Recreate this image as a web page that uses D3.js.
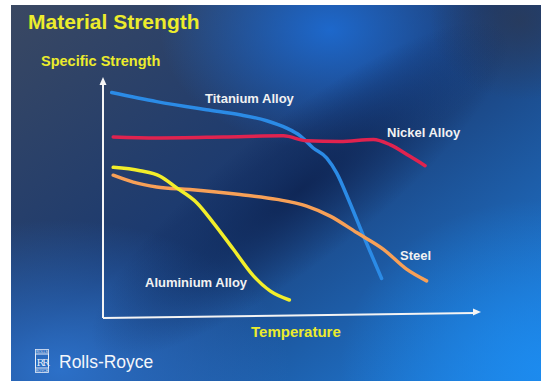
<!DOCTYPE html>
<html>
<head>
<meta charset="utf-8">
<script src="https://cdn.jsdelivr.net/npm/d3@7"></script>
<style>
  html, body { margin: 0; padding: 0; background: #fff; }
  svg { display: block; }
</style>
</head>
<body>
<div id="chart"></div>
<script>
// Values, temperature and strength on a 0-100 scale
const titaniumT = [2.3, 14.2, 27.4, 36.2, 43.3, 48.6, 52.1, 55.6, 59.2, 61.8, 65.3, 68.9, 73.7];
const titaniumS = [93.5, 89.7, 86.3, 84.2, 81.7, 78.6, 75.5, 70.3, 66.1, 59.9, 47.4, 33.5, 15.7];

const nickelT = [2.7, 14.2, 31.8, 47.7, 53.9, 62.7, 71.5, 75.9, 81.2, 85.2];
const nickelS = [74.9, 74.5, 74.9, 75.4, 73.3, 73.0, 73.8, 71.7, 66.8, 62.9];

const aluminiumT = [2.7, 9.8, 15.1, 19.5, 24.8, 29.2, 34.5, 39.8, 44.2, 49.3];
const aluminiumS = [62.2, 60.8, 58.5, 53.6, 47.4, 39.0, 27.9, 16.8, 10.5, 6.7];

const steelT = [2.7, 8.0, 14.2, 23.0, 36.2, 46.0, 53.9, 60.1, 67.1, 74.2, 80.3, 85.6];
const steelS = [58.9, 56.0, 54.0, 52.9, 50.8, 48.8, 46.0, 41.8, 34.9, 27.9, 19.6, 14.7];

const seriesNames = ["Titanium Alloy", "Nickel Alloy", "Aluminium Alloy", "Steel"];

const W = 541, H = 381;

const svg = d3.select("#chart").append("svg")
    .attr("width", W)
    .attr("height", H);

const defs = svg.append("defs");

// base gradient: slate navy top-left to bright blue bottom-right
const base = defs.append("linearGradient")
    .attr("id", "base")
    .attr("x1", 0).attr("y1", 0).attr("x2", 1).attr("y2", 1);
base.append("stop").attr("offset", "0%").attr("stop-color", "#3a4862");
base.append("stop").attr("offset", "45%").attr("stop-color", "#1b3a70");
base.append("stop").attr("offset", "100%").attr("stop-color", "#1f80e0");

function glow(id, color, op) {
    const g = defs.append("radialGradient").attr("id", id);
    g.append("stop").attr("offset", "0%").attr("stop-color", color).attr("stop-opacity", op);
    g.append("stop").attr("offset", "100%").attr("stop-color", color).attr("stop-opacity", 0);
}
glow("glowTop", "#1d6ad0", 0.95);
glow("glowLeft", "#2c70c8", 1);
glow("glowRight", "#1c8cf0", 0.9);
glow("dark", "#0d2250", 0.85);
glow("darkCorner", "#2a3a58", 0.8);

const bg = svg.append("g");
bg.append("rect").attr("x", 11).attr("y", 5).attr("width", W - 11).attr("height", H - 5)
    .attr("fill", "url(#base)");

const clip = defs.append("clipPath").attr("id", "slide");
clip.append("rect").attr("x", 11).attr("y", 5).attr("width", W - 11).attr("height", H - 5);

const glows = bg.append("g").attr("clip-path", "url(#slide)");
glows.append("ellipse").attr("cx", 330).attr("cy", 30).attr("rx", 170).attr("ry", 120)
    .attr("fill", "url(#glowTop)");
glows.append("ellipse").attr("cx", 60).attr("cy", 370).attr("rx", 230).attr("ry", 150)
    .attr("fill", "url(#glowLeft)");
glows.append("ellipse").attr("cx", 540).attr("cy", 370).attr("rx", 200).attr("ry", 170)
    .attr("fill", "url(#glowRight)");
glows.append("ellipse").attr("cx", 520).attr("cy", 20).attr("rx", 90).attr("ry", 80)
    .attr("fill", "url(#darkCorner)");
glows.append("ellipse")
    .attr("cx", 300).attr("cy", 190).attr("rx", 260).attr("ry", 70)
    .attr("transform", "rotate(-38 300 190)")
    .attr("fill", "url(#dark)");

// scales
const x = d3.scaleLinear().domain([0, 100]).range([103, 481]);
const y = d3.scaleLinear().domain([0, 100]).range([316, 77]);

// axes (the photo is slightly tilted)
svg.append("path")
    .attr("d", `M${x(0)},${y(0) + 2} L${x(0)},${y(100) + 2}`)
    .attr("stroke", "#f4f4f4").attr("stroke-width", 2).attr("fill", "none");
svg.append("path")
    .attr("d", `M${x(0)},${y(0) + 2} L${x(100) - 6},${y(0) - 3}`)
    .attr("stroke", "#f4f4f4").attr("stroke-width", 2).attr("fill", "none");
svg.append("path")
    .attr("d", `M${x(0) - 3.5},${y(100) + 8} L${x(0)},${y(100)} L${x(0) + 3.5},${y(100) + 8} Z`)
    .attr("fill", "#f4f4f4");
svg.append("path")
    .attr("d", `M${x(100) - 8},${y(0) - 7.5} L${x(100)},${y(0) - 4} L${x(100) - 8},${y(0) - 0.5} Z`)
    .attr("fill", "#f4f4f4");

const series = [
    { name: seriesNames[0], t: titaniumT, s: titaniumS, color: "#2b8be6" },
    { name: seriesNames[1], t: nickelT, s: nickelS, color: "#e0234f" },
    { name: seriesNames[3], t: steelT, s: steelS, color: "#f7a057" },
    { name: seriesNames[2], t: aluminiumT, s: aluminiumS, color: "#f2ee2a" }
];

const line = d3.line()
    .x(d => x(d[0]))
    .y(d => y(d[1]))
    .curve(d3.curveMonotoneX);

series.forEach(sr => {
    svg.append("path")
        .datum(d3.zip(sr.t, sr.s))
        .attr("fill", "none")
        .attr("stroke", sr.color)
        .attr("stroke-width", 3.5)
        .attr("stroke-linecap", "round")
        .attr("d", line);
});

// series labels
const labelFont = "'Liberation Sans', Arial, sans-serif";
const labels = [
    { text: seriesNames[0], px: 205, py: 103 },
    { text: seriesNames[1], px: 387, py: 137 },
    { text: seriesNames[3], px: 400, py: 260 },
    { text: seriesNames[2], px: 145, py: 287 }
];
svg.selectAll("text.series")
    .data(labels)
    .join("text")
    .attr("class", "series")
    .attr("x", d => d.px)
    .attr("y", d => d.py)
    .attr("fill", "#f2f2f2")
    .style("font-family", labelFont)
    .style("font-size", "13px")
    .style("font-weight", "bold")
    .text(d => d.text);

// titles
svg.append("text")
    .attr("x", 28).attr("y", 29)
    .attr("fill", "#ecec2c")
    .style("font-family", labelFont)
    .style("font-size", "21px")
    .style("font-weight", "bold")
    .text("Material Strength");

svg.append("text")
    .attr("x", 41).attr("y", 66)
    .attr("fill", "#ecec2c")
    .style("font-family", labelFont)
    .style("font-size", "14.5px")
    .style("font-weight", "bold")
    .text("Specific Strength");

svg.append("text")
    .attr("x", 251).attr("y", 337)
    .attr("fill", "#ecec2c")
    .style("font-family", labelFont)
    .style("font-size", "15px")
    .style("font-weight", "bold")
    .text("Temperature");

// Rolls-Royce badge
const logo = svg.append("g").attr("transform", "translate(35,349)");
logo.append("rect").attr("x", 0.5).attr("y", 5).attr("width", 13).attr("height", 14)
    .attr("fill", "none").attr("stroke", "#e8eef8").attr("stroke-width", 1);
logo.append("rect").attr("x", 0.5).attr("y", 0.5).attr("width", 13).attr("height", 23)
    .attr("fill", "none").attr("stroke", "#e8eef8").attr("stroke-width", 0.8);
logo.append("text").attr("x", 7).attr("y", 4.2).attr("text-anchor", "middle")
    .attr("fill", "#e8eef8").style("font-family", labelFont).style("font-size", "3.5px")
    .text("ROLLS");
logo.append("text").attr("x", 7).attr("y", 22.5).attr("text-anchor", "middle")
    .attr("fill", "#e8eef8").style("font-family", labelFont).style("font-size", "3.5px")
    .text("ROYCE");
logo.append("text").attr("x", 7).attr("y", 16.5).attr("text-anchor", "middle")
    .attr("fill", "#e8eef8").style("font-family", "'DejaVu Serif', serif").style("font-size", "10px")
    .style("letter-spacing", "-2px")
    .text("RR");

svg.append("text")
    .attr("x", 59).attr("y", 368)
    .attr("fill", "#f4f6fa")
    .style("font-family", labelFont)
    .style("font-size", "17.5px")
    .text("Rolls-Royce");
</script>
</body>
</html>
